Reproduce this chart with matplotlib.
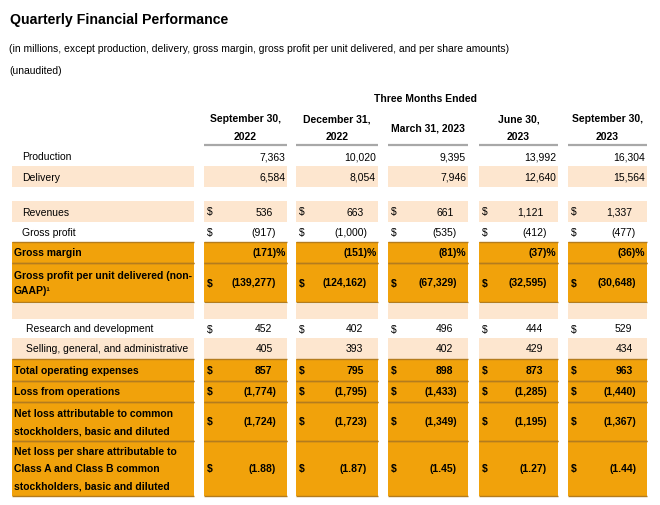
import matplotlib
matplotlib.use('Agg')
import matplotlib.pyplot as plt

plt.rcParams['font.family'] = ['Liberation Sans', 'DejaVu Sans']

# Column headers
periods = ['September 30,\n2022', 'December 31,\n2022', 'March 31, 2023',
           'June 30,\n2023', 'September 30,\n2023']

# Row data (in millions unless noted)
production = [7363, 10020, 9395, 13992, 16304]
delivery = [6584, 8054, 7946, 12640, 15564]
revenues = [536, 663, 661, 1121, 1337]
gross_profit = [-917, -1000, -535, -412, -477]
gross_margin = [-171, -151, -81, -37, -36]
gp_per_unit = [-139277, -124162, -67329, -32595, -30648]
research_dev = [452, 402, 496, 444, 529]
sga = [405, 393, 402, 429, 434]
total_opex = [857, 795, 898, 873, 963]
loss_ops = [-1774, -1795, -1433, -1285, -1440]
net_loss = [-1724, -1723, -1349, -1195, -1367]
net_loss_per_share = [-1.88, -1.87, -1.45, -1.27, -1.44]

ORANGE = '#F1A20B'
LIGHT = '#FDE6CF'
EDGE = '#B47C1E'


def fmt(v, kind):
    if kind == 'pct':
        s = f'{abs(v):,.0f}'
        return f'({s})%' if v < 0 else f'{s}%'
    if kind == 'eps':
        s = f'{abs(v):.2f}'
    else:
        s = f'{abs(v):,.0f}'
    return f'({s})' if v < 0 else s


# label, values, kind, fill, bold, dollar sign, top, bottom, label x
rows = [
    ('Production', production, 'num', None, False, False, 147, 167, 22),
    ('Delivery', delivery, 'num', LIGHT, False, False, 167, 188, 22),
    ('Revenues', revenues, 'usd', LIGHT, False, True, 202, 223, 22),
    ('Gross profit', gross_profit, 'usd', None, False, True, 223, 243, 22),
    ('Gross margin', gross_margin, 'pct', ORANGE, True, False, 243, 264, 14),
    ('Gross profit per unit delivered (non-\nGAAP)\u00b9', gp_per_unit, 'usd', ORANGE, True, True, 264, 303, 14),
    ('', None, None, LIGHT, False, False, 305, 320, 14),
    ('Research and development', research_dev, 'usd', None, False, True, 320, 339, 26),
    ('Selling, general, and administrative', sga, 'usd', LIGHT, False, False, 339, 360, 26),
    ('Total operating expenses', total_opex, 'usd', ORANGE, True, True, 360, 382, 14),
    ('Loss from operations', loss_ops, 'usd', ORANGE, True, True, 382, 403, 14),
    ('Net loss attributable to common\nstockholders, basic and diluted', net_loss, 'usd', ORANGE, True, True, 403, 442, 14),
    ('Net loss per share attributable to\nClass A and Class B common\nstockholders, basic and diluted',
     net_loss_per_share, 'eps', ORANGE, True, True, 442, 497, 14),
]

label_col = (12, 194)
cols = [(204, 287), (296, 378), (388, 468), (479, 558), (568, 647)]

fig = plt.figure(figsize=(6.6, 5.06), dpi=100)
ax = fig.add_axes([0, 0, 1, 1])
ax.set_xlim(0, 660)
ax.set_ylim(506, 0)
ax.axis('off')

fs = 7.5
ax.text(10, 20, 'Quarterly Financial Performance', fontsize=10.2, fontweight='bold', va='center')
ax.text(9, 48.5, '(in millions, except production, delivery, gross margin, gross profit per unit '
        'delivered, and per share amounts)', fontsize=fs, va='center')
ax.text(9, 70.5, '(unaudited)', fontsize=fs, va='center')
ax.text(426, 99, 'Three Months Ended', fontsize=fs, fontweight='bold', va='center', ha='center')

for (x0, x1), p in zip(cols, periods):
    cx = (x0 + x1) / 2
    parts = p.split('\n')
    if len(parts) == 2:
        ax.text(cx, 119, parts[0], fontsize=fs, fontweight='bold', ha='center', va='center')
        ax.text(cx, 137, parts[1], fontsize=fs, fontweight='bold', ha='center', va='center')
    else:
        ax.text(cx, 128, p, fontsize=fs, fontweight='bold', ha='center', va='center')
    ax.plot([x0, x1], [146, 146], color='#A8A8A8', lw=1.6, solid_capstyle='butt')

for label, vals, kind, fill, bold, dollar, top, bot, lx in rows:
    w = 'bold' if bold else 'normal'
    for (x0, x1) in [label_col] + cols:
        if fill:
            ax.add_patch(plt.Rectangle((x0, top), x1 - x0, bot - top, color=fill, lw=0))
        if fill == ORANGE:
            ax.plot([x0, x1], [bot, bot], color=EDGE, lw=1.0, solid_capstyle='butt')
            ax.plot([x0, x1], [top, top], color=EDGE, lw=1.0, solid_capstyle='butt')
    cy = (top + bot) / 2
    lines = label.split('\n')
    n = len(lines)
    step = 15 if 'GAAP' in label else 17.5
    for i, ln in enumerate(lines):
        ax.text(lx, cy + (i - (n - 1) / 2) * step, ln, fontsize=fs, fontweight=w, va='center')
    if vals is None:
        continue
    for (x0, x1), v in zip(cols, vals):
        s = fmt(v, kind)
        if kind == 'num':
            xr = x1 - 2
        elif kind == 'pct':
            xr = x1 - 1.5
        else:
            xr = x1 - 11 if s.endswith(')') else x1 - 14.5
        ax.text(xr, cy, s, fontsize=fs, fontweight=w, ha='right', va='center')
        if dollar:
            ax.text(x0 + 3, cy, '$', fontsize=fs, fontweight=w, va='center')

fig.savefig('out.png', dpi=100)
